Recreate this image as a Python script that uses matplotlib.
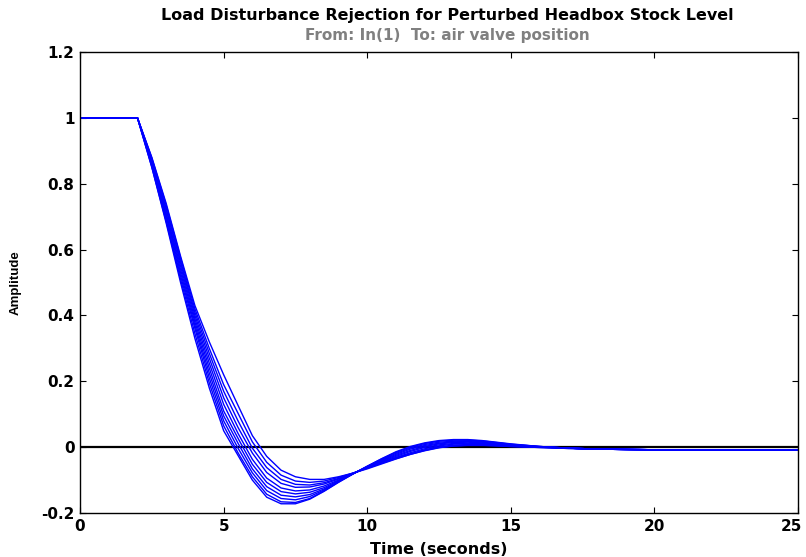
import matplotlib
matplotlib.use("Agg")
import matplotlib.pyplot as plt
from matplotlib.transforms import ScaledTranslation

plt.rcParams['font.family'] = ['DejaVu Sans']
plt.rcParams['font.weight'] = 'bold'

# time samples (seconds)
t = [0, 2, 2.5, 3, 3.5, 4, 4.5, 5, 5.5, 6, 6.5, 7, 7.5, 8, 8.5, 9, 9.5, 10,
     10.5, 11, 11.5, 12, 12.5, 13, 13.5, 14, 14.5, 15, 16, 17, 18, 20, 25]

# responses of the perturbed plants, fastest to slowest
r1 = [1, 1, 0.85, 0.68, 0.50, 0.33, 0.18, 0.05, -0.025, -0.10, -0.152, -0.172, -0.172, -0.158, -0.134, -0.107, -0.082,
      -0.058, -0.035, -0.014, 0.002, 0.013, 0.020, 0.023, 0.023, 0.020, 0.015, 0.010, 0.002, -0.003, -0.006, -0.008, -0.008]
r2 = [1, 1, 0.85, 0.685, 0.51, 0.345, 0.195, 0.065, -0.017, -0.09, -0.143, -0.166, -0.168, -0.156, -0.133, -0.106, -0.081,
      -0.058, -0.036, -0.016, 0.000, 0.011, 0.018, 0.021, 0.021, 0.019, 0.014, 0.009, 0.002, -0.003, -0.006, -0.008, -0.008]
r3 = [1, 1, 0.855, 0.69, 0.52, 0.36, 0.21, 0.08, -0.003, -0.078, -0.132, -0.156, -0.160, -0.150, -0.130, -0.105, -0.081,
      -0.059, -0.038, -0.019, -0.003, 0.008, 0.015, 0.018, 0.019, 0.017, 0.013, 0.008, 0.002, -0.003, -0.006, -0.008, -0.008]
r4 = [1, 1, 0.86, 0.70, 0.53, 0.37, 0.225, 0.095, 0.012, -0.066, -0.120, -0.146, -0.151, -0.144, -0.127, -0.104, -0.081,
      -0.060, -0.040, -0.022, -0.006, 0.005, 0.012, 0.016, 0.017, 0.015, 0.011, 0.007, 0.001, -0.003, -0.006, -0.008, -0.008]
r5 = [1, 1, 0.865, 0.705, 0.54, 0.38, 0.24, 0.11, 0.027, -0.052, -0.107, -0.135, -0.142, -0.137, -0.123, -0.102, -0.081,
      -0.061, -0.042, -0.025, -0.010, 0.002, 0.010, 0.014, 0.015, 0.013, 0.010, 0.006, 0.001, -0.003, -0.006, -0.008, -0.008]
r6 = [1, 1, 0.87, 0.71, 0.55, 0.39, 0.255, 0.13, 0.042, -0.037, -0.094, -0.124, -0.133, -0.130, -0.118, -0.100, -0.080,
      -0.062, -0.044, -0.028, -0.013, -0.001, 0.007, 0.011, 0.012, 0.011, 0.008, 0.005, 0.001, -0.003, -0.006, -0.008, -0.008]
r7 = [1, 1, 0.87, 0.72, 0.56, 0.40, 0.27, 0.15, 0.06, -0.018, -0.077, -0.11, -0.122, -0.121, -0.112, -0.097, -0.080,
      -0.063, -0.046, -0.031, -0.017, -0.005, 0.004, 0.009, 0.010, 0.009, 0.007, 0.004, 0.000, -0.003, -0.006, -0.008, -0.008]
r8 = [1, 1, 0.875, 0.725, 0.565, 0.41, 0.285, 0.17, 0.08, -0.003, -0.062, -0.098, -0.113, -0.115, -0.108, -0.095, -0.079,
      -0.063, -0.047, -0.033, -0.020, -0.008, 0.001, 0.006, 0.008, 0.007, 0.005, 0.003, 0.000, -0.003, -0.006, -0.008, -0.008]
r9 = [1, 1, 0.878, 0.735, 0.575, 0.42, 0.30, 0.19, 0.103, 0.016, -0.046, -0.085, -0.103, -0.107, -0.103, -0.092, -0.079,
      -0.064, -0.049, -0.035, -0.022, -0.011, -0.002, 0.004, 0.006, 0.006, 0.004, 0.002, -0.001, -0.004, -0.006, -0.008, -0.008]
r10 = [1, 1, 0.88, 0.74, 0.58, 0.43, 0.32, 0.22, 0.127, 0.035, -0.028, -0.07, -0.09, -0.098, -0.098, -0.090, -0.079,
       -0.066, -0.051, -0.036, -0.022, -0.010, -0.001, 0.003, 0.005, 0.005, 0.004, 0.002, -0.001, -0.004, -0.006, -0.008, -0.008]
responses = [r1, r2, r3, r4, r5, r6, r7, r8, r9, r10]

xticks = [0, 5, 10, 15, 20, 25]
yticks = [-0.2, 0, 0.2, 0.4, 0.6, 0.8, 1, 1.2]
yticklabels = ['-0.2', '0', '0.2', '0.4', '0.6', '0.8', '1', '1.2']

fig = plt.figure(figsize=(8.06, 5.57), dpi=100)
ax = fig.add_axes([0.0993, 0.079, 0.8908, 0.8276])

ax.axhline(0, color='black', lw=1.6, zorder=1)
for r in responses:
    ax.plot(t, r, color='#0000ff', lw=1.0, zorder=2)

ax.set_xlim(0, 25)
ax.set_ylim(-0.2, 1.2)
ax.set_xticks(xticks)
ax.set_xticklabels([str(v) for v in xticks])
ax.set_yticks(yticks)
ax.set_yticklabels(yticklabels)
ax.tick_params(direction='in', top=True, right=True, length=4, width=0.8,
               labelsize=11, pad=4)
for s in ax.spines.values():
    s.set_linewidth(1.0)

# keep the last x label inside the figure
last = ax.get_xticklabels()[-1]
last.set_transform(last.get_transform() + ScaledTranslation(-5 / 72, 0, fig.dpi_scale_trans))

ax.set_xlabel('Time (seconds)', fontsize=11.5, fontweight='bold', labelpad=6)
ax.set_ylabel('Amplitude', fontsize=9.5, fontweight='bold', labelpad=14,
              family=['Liberation Sans', 'DejaVu Sans'])

fig.text(0.555, 0.973, 'Load Disturbance Rejection for Perturbed Headbox Stock Level',
         ha='center', va='center', fontsize=11.5, fontweight='bold')
fig.text(0.555, 0.937, 'From: In(1)  To: air valve position',
         ha='center', va='center', fontsize=11, fontweight='bold', color='#808080')

fig.savefig('out.png', dpi=100)
